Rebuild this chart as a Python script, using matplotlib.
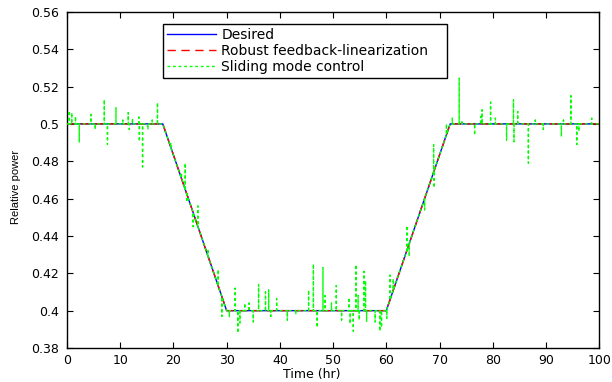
import numpy as np
import matplotlib
matplotlib.use("Agg")
import matplotlib.pyplot as plt

plt.rcParams['font.family'] = ['DejaVu Sans']

# Desired trajectory breakpoints
desired_t = [0, 18, 30, 60, 72, 100]
desired_v = [0.5, 0.5, 0.4, 0.4, 0.5, 0.5]

# Robust feedback-linearization (tracks desired closely)
robust_t = [0, 18, 30, 60, 72, 100]
robust_v = [0.5, 0.5, 0.4, 0.4, 0.5, 0.5]

# Sliding mode control: spikes (time, peak value) around the desired trajectory
smc_spike_t = [0.4, 0.9, 1.6, 2.3, 4.5, 5.3, 7.0, 7.6, 9.2, 10.5, 11.5, 11.7, 12.3,
               13.5, 13.6, 14.2, 15.2, 16.0, 17.0,
               19.5, 21.5, 22.2, 22.5, 23.7, 24.6, 26.5, 28.4, 29.1,
               30.5, 31.6, 32.1, 32.5, 33.4, 34.2, 35.0, 36.0, 37.3, 37.9, 38.3,
               39.4, 41.4, 43.0, 45.4, 46.3, 47.0, 48.1, 48.5, 49.7, 50.6, 51.6,
               53.0, 53.2, 53.8, 54.3, 54.7, 54.9, 55.8, 56.1, 56.3, 57.9, 58.8, 59.1,
               60.1, 60.7, 61.3, 63.9, 64.3, 67.2, 68.9, 69.0, 71.3,
               72.4, 73.7, 74.2, 76.6, 77.8, 78.0, 79.6, 80.5, 82.6, 83.9, 84.0,
               84.7, 86.7, 88.0, 89.5, 92.9, 93.3, 94.7, 95.8, 96.2, 98.6]
smc_spike_v = [0.507, 0.506, 0.504, 0.490, 0.505, 0.497, 0.513, 0.489, 0.509, 0.502, 0.506, 0.497, 0.503,
               0.5036, 0.4905, 0.477, 0.497, 0.502, 0.5114,
               0.490, 0.474, 0.479, 0.458, 0.445, 0.456, 0.433, 0.422, 0.397,
               0.3965, 0.412, 0.388, 0.3935, 0.404, 0.404, 0.394, 0.414, 0.410, 0.411, 0.397,
               0.4064, 0.395, 0.398, 0.411, 0.425, 0.391, 0.423, 0.408, 0.404, 0.4134, 0.395,
               0.407, 0.393, 0.389, 0.4246, 0.408, 0.395, 0.421, 0.416, 0.394, 0.394, 0.389, 0.391,
               0.396, 0.419, 0.417, 0.4455, 0.429, 0.454, 0.4888, 0.4658, 0.500,
               0.503, 0.5244, 0.502, 0.494, 0.504, 0.5075, 0.5116, 0.503, 0.4914, 0.5128, 0.4905,
               0.5066, 0.479, 0.502, 0.497, 0.4932, 0.502, 0.515, 0.489, 0.496, 0.503]

xticks = list(range(0, 101, 10))
yticks = [0.38, 0.40, 0.42, 0.44, 0.46, 0.48, 0.50, 0.52, 0.54, 0.56]
yticklabels = ['0.38', '0.4', '0.42', '0.44', '0.46', '0.48', '0.5', '0.52', '0.54', '0.56']

# Build SMC series: desired path with vertical excursions at spike times
seq_t, seq_v = [], []
events = sorted(zip(smc_spike_t, smc_spike_v))
allt = sorted(set(desired_t) | set(smc_spike_t))
for t in allt:
    base = float(np.interp(t, desired_t, desired_v))
    seq_t.append(t); seq_v.append(base)
    for st, sv in events:
        if st == t:
            seq_t += [t, t]; seq_v += [sv, base]

fig = plt.figure(figsize=(6.12, 3.82), dpi=100)
ax = fig.add_axes([0.1095, 0.089, 0.8695, 0.880])

ax.plot(desired_t, desired_v, color='#0000ff', lw=1.0, label='Desired', zorder=2)
ax.plot(robust_t, robust_v, color='#ff0000', lw=1.0, ls=(0, (6, 4)), label='Robust feedback-linearization', zorder=3)
ax.plot(seq_t, seq_v, color='#00ff00', lw=1.0, ls=(0, (2, 2)), label='Sliding mode control', zorder=4)

ax.set_xlim(0, 100)
ax.set_ylim(0.38, 0.56)
ax.set_xticks(xticks)
ax.set_yticks(yticks)
ax.set_yticklabels(yticklabels)
ax.tick_params(direction='in', length=4, width=0.8, top=True, right=True, labelsize=9)
ax.tick_params(axis='y', pad=6)
ax.tick_params(axis='x', pad=4)
for s in ax.spines.values():
    s.set_linewidth(1.0)

ax.set_xlabel('Time (hr)', fontsize=9, va='center')
ax.xaxis.set_label_coords(0.46, -0.08)
ax.set_ylabel('Relative power', fontsize=8, family=['Liberation Sans'], va='center')
ax.yaxis.set_label_coords(-0.096, 0.479)

leg = ax.legend(loc='upper left', bbox_to_anchor=(0.180, 0.786, 0.534, 0.178), mode='expand',
                borderaxespad=0,
                fontsize=10, handlelength=3.5, handletextpad=0.4, labelspacing=0.15,
                borderpad=0.3, fancybox=False, framealpha=1, edgecolor='black')
leg.get_frame().set_linewidth(1.0)

fig.savefig('out.png', dpi=100)
